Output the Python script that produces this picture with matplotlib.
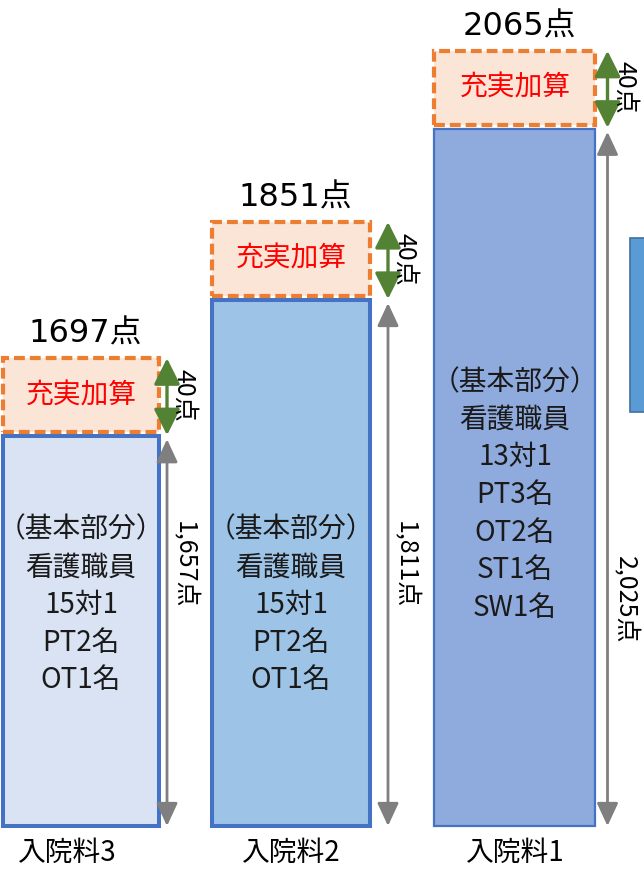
import numpy as np
import matplotlib.pyplot as plt
from matplotlib.patches import Rectangle

plt.rcParams['font.family'] = ['Noto Sans CJK JP', 'DejaVu Sans']

# データ
categories = ['入院料3', '入院料2', '入院料1']
base_points = [1657, 1811, 2025]
kasan_points = [40, 40, 40]
staff_ratio = ['15対1', '15対1', '13対1']
staff_extra = [['PT2名', 'OT1名'],
               ['PT2名', 'OT1名'],
               ['PT3名', 'OT2名', 'ST1名', 'SW1名']]
fills = ['#DAE3F3', '#9DC3E6', '#8FAADC']
# 右端で切れている隣の図の棒 (下端, 上端)
neighbor_low, neighbor_high = 1683, 1886

W, H = 644, 872
fig = plt.figure(figsize=(W / 100, H / 100), dpi=100)
ax = fig.add_axes([0, 0, 1, 1])

# 模式図: 縦軸は対数で1285点が棒の底
floor = 1285
px_per_ln = 1533
base_px = 46
ymin = floor * np.exp(-base_px / px_per_ln)
ymax = ymin * np.exp(H / px_per_ln)
ax.set_yscale('log')
ax.set_xlim(0, W)
ax.set_ylim(ymin, ymax)
ax.axis('off')


def shift(v, n):
    # 値vからnピクセル上の位置
    return v * np.exp(n / px_per_ln)


def from_top(p):
    return ymin * np.exp((H - p) / px_per_ln)


centers = [81, 291, 515]
widths = [156, 158, 161]
edge_lw = [2.9, 2.9, 1.6]
arrow_dx = [8, 18, 12]
inner_y = [605, 605, 495]
label_x = [67, 291, 515]

for i, cat in enumerate(categories):
    b = base_points[i]
    k = kasan_points[i]
    cx = centers[i]
    w = widths[i]
    ax.bar(cx, b - floor, bottom=floor, width=w, color=fills[i],
           edgecolor='#4472C4', linewidth=edge_lw[i], zorder=2)

    # 充実加算の箱
    box_bot = shift(b, 4)
    box_top = shift(b, 78)
    box_mid = shift(b, 41)
    ax.add_patch(Rectangle((cx - w / 2, box_bot), w, box_top - box_bot,
                           facecolor='#FBE5D6', edgecolor='#ED7D31',
                           linewidth=3, linestyle=(0, (2.6, 1.2)), zorder=3))
    ax.text(cx, box_mid, '充実加算', color='#FF0000',
            fontsize=20, ha='center', va='center', zorder=4)
    ax.text(cx + 4, shift(b, 102), f'{b + k}点', fontsize=23,
            family=['DejaVu Sans', 'Noto Sans CJK JP'],
            ha='center', va='center')

    # 矢印
    axx = cx + w / 2 + arrow_dx[i]
    ax.annotate('', xy=(axx, box_top), xytext=(axx, shift(b, 1)),
                arrowprops=dict(arrowstyle='<|-|>,head_length=1.6,head_width=0.8',
                                color='#548235', lw=2.4, shrinkA=0, shrinkB=0))
    ax.annotate('', xy=(axx, shift(b, -3)), xytext=(axx, floor),
                arrowprops=dict(arrowstyle='<|-|>,head_length=1.4,head_width=0.65',
                                color='#7F7F7F', lw=2, shrinkA=0, shrinkB=0))
    ax.text(axx + 17, box_mid, f'{k}点', rotation=270,
            fontsize=18, ha='center', va='center')
    ax.text(axx + 17, from_top(565 if i < 2 else 600), f'{b:,}点', rotation=270,
            fontsize=18, ha='center', va='center')

    lines = ['（基本部分）', '看護職員', staff_ratio[i]] + staff_extra[i]
    ax.text(cx, from_top(inner_y[i]), '\n'.join(lines), fontsize=20,
            ha='center', va='center', linespacing=1.33, zorder=4, color='#1a1a1a')

    ax.text(label_x[i], from_top(853), cat, fontsize=20, ha='center', va='center')

ax.bar(642, neighbor_high - neighbor_low, bottom=neighbor_low, width=24,
       color='#5B9BD5', edgecolor='#41719C', linewidth=1.2)

fig.savefig('out.png', dpi=100)
